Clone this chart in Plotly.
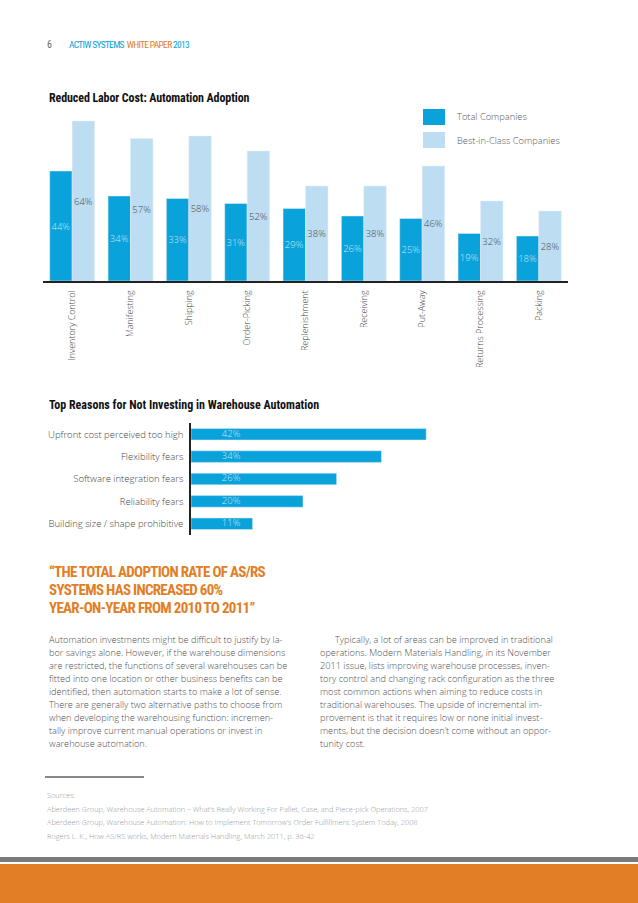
import plotly.graph_objects as go

# ---------------- data ----------------
categories = ["Inventory Control", "Manifesting", "Shipping", "Order-Picking", "Replenishment",
              "Receiving", "Put-Away", "Returns Processing", "Packing"]
total_companies = [44, 34, 33, 31, 29, 26, 25, 19, 18]
best_in_class = [64, 57, 58, 52, 38, 38, 46, 32, 28]

reasons = ["Upfront cost perceived too high", "Flexibility fears", "Software integration fears",
           "Reliability fears", "Building size / shape prohibitive"]
reason_values = [42, 34, 26, 20, 11]

series_names = ["Total Companies", "Best-in-Class Companies"]

quote_lines = ["\u201cTHE TOTAL ADOPTION RATE OF AS/RS",
               "SYSTEMS HAS INCREASED 60%",
               "YEAR-ON-YEAR FROM 2010 TO 2011\u201d"]

left_text = ["Automation investments might be difficult to justify by la-",
             "bor savings alone. However, if the warehouse dimensions",
             "are restricted, the functions of several warehouses can be",
             "fitted into one location or other business benefits can be",
             "identified, then automation starts to make a lot of sense.",
             "There are generally two alternative paths to choose from",
             "when developing the warehousing function: incremen-",
             "tally improve current manual operations or invest in",
             "warehouse automation."]
right_text = ["Typically, a lot of areas can be improved in traditional",
              "operations. Modern Materials Handling, in its November",
              "2011 issue, lists improving warehouse processes, inven-",
              "tory control and changing rack configuration as the three",
              "most common actions when aiming to reduce costs in",
              "traditional warehouses. The upside of incremental im-",
              "provement is that it requires low or none initial invest-",
              "ments, but the decision doesn\u2019t come without an oppor-",
              "tunity cost."]
sources = ["Sources:",
           "Aberdeen Group, Warehouse Automation \u2013 What\u2019s Really Working For Pallet, Case, and Piece-pick Operations, 2007",
           "Aberdeen Group, Warehouse Automation: How to Implement Tomorrow\u2019s Order Fulfillment System Today, 2008",
           "Rogers L. K., How AS/RS works, Modern Materials Handling, March 2011, p. 36-42"]

# ---------------- style ----------------
W, H = 638, 903
DARK = "#0AA2DA"
LIGHT = "#BCDDF2"
ORANGE = "#E27E26"
BODY_FONT = "Open Sans, Lato, sans-serif"
COND_FONT = "Roboto Condensed, Liberation Sans Narrow, Roboto, sans-serif"


def px(x):
    return x / W


def py(y):
    return 1 - y / H


def tight(s, ls):
    return f"<span style='letter-spacing:{ls}px'>{s}</span>"


fig = go.Figure()

fig.add_trace(go.Bar(
    x=categories, y=total_companies, name=series_names[0], marker_color=DARK,
    text=[f"{v}%" for v in total_companies], textposition="inside", insidetextanchor="middle",
    textangle=0, constraintext="none",
    textfont=dict(family=BODY_FONT, size=9.5, color="#C6E6F8", weight=300),
    xaxis="x", yaxis="y", hoverinfo="skip"))
fig.add_trace(go.Bar(
    x=categories, y=best_in_class, name=series_names[1], marker_color=LIGHT,
    text=[f"{v}%" for v in best_in_class], textposition="inside", insidetextanchor="middle",
    textangle=0, constraintext="none",
    textfont=dict(family=BODY_FONT, size=9.5, color="#4A4A4A", weight=300),
    xaxis="x", yaxis="y", hoverinfo="skip"))

fig.add_trace(go.Bar(
    x=reason_values, y=reasons, orientation="h", marker_color=DARK, width=0.52,
    xaxis="x2", yaxis="y2", hoverinfo="skip", showlegend=False))
fig.add_trace(go.Scatter(
    x=[5.5] * len(reasons), y=reasons, mode="text", text=[f"{v}%" for v in reason_values],
    textposition="middle right", textfont=dict(family=BODY_FONT, size=9.5, color="#C6E6F8", weight=300),
    xaxis="x2", yaxis="y2", hoverinfo="skip", showlegend=False))

fig.update_layout(
    width=W, height=H, margin=dict(l=0, r=0, t=0, b=0),
    paper_bgcolor="white", plot_bgcolor="rgba(0,0,0,0)",
    showlegend=False, barmode="group", bargap=0.23, bargroupgap=0,
    xaxis=dict(domain=[px(43), px(568)], type="category", range=[-0.5, 8.5],
               showline=True, linecolor="#222222", linewidth=1.5, ticks="",
               tickangle=-90, tickfont=dict(family=BODY_FONT, size=9, color="#4A4A4A", weight=300),
               showgrid=False, zeroline=False, fixedrange=True, ticklabelstandoff=4),
    yaxis=dict(domain=[py(281), py(106)], range=[0, 70], visible=False, fixedrange=True),
    xaxis2=dict(domain=[px(191), px(443)], range=[0, 45], visible=False, fixedrange=True),
    yaxis2=dict(domain=[py(535), py(423)], type="category", range=[4.5, -0.5], anchor="x2",
                showline=True, linecolor="#222222", linewidth=1.5, ticks="",
                tickfont=dict(family=BODY_FONT, size=9.5, color="#444444", weight=300),
                showgrid=False, zeroline=False, fixedrange=True, ticklabelstandoff=4),
)

shapes = []
annotations = []

# legend
for i, (name, col) in enumerate(zip(series_names, [DARK, LIGHT])):
    top = 109 + 23 * i
    shapes.append(dict(type="rect", xref="paper", yref="paper", x0=px(423), x1=px(445),
                       y0=py(top + 16), y1=py(top), fillcolor=col, line=dict(width=0)))
    annotations.append(dict(text=name, xref="paper", yref="paper", x=px(455), y=py(top + 8),
                            xanchor="left", yanchor="middle", showarrow=False,
                            font=dict(family=BODY_FONT, size=9.3, color="#555555", weight=300)))

# header
annotations.append(dict(text="6", xref="paper", yref="paper", x=px(45), y=py(44),
                        xanchor="left", yanchor="middle", showarrow=False,
                        font=dict(family=COND_FONT, size=10, color="#666666")))
annotations.append(dict(
    text=tight(f"<span style='color:{DARK}'>ACTIW SYSTEMS</span>  <span style='color:{ORANGE}'>WHITE PAPER</span> <span style='color:{DARK}'>2013</span>", -0.7),
    xref="paper", yref="paper", x=px(67), y=py(44), xanchor="left", yanchor="middle",
    showarrow=False, font=dict(family=COND_FONT, size=9.5, color=DARK)))

# chart titles
annotations.append(dict(text=tight("<b>Reduced Labor Cost: Automation Adoption</b>", -0.1), xref="paper",
                        yref="paper", x=px(47), y=py(98), xanchor="left", yanchor="middle", showarrow=False,
                        font=dict(family=COND_FONT, size=12, color="#111111")))
annotations.append(dict(text=tight("<b>Top Reasons for Not Investing in Warehouse Automation</b>", 0),
                        xref="paper", yref="paper", x=px(47), y=py(405), xanchor="left", yanchor="middle",
                        showarrow=False, font=dict(family=COND_FONT, size=12, color="#111111")))

# quote
for i, line in enumerate(quote_lines):
    annotations.append(dict(text=tight(f"<b>{line}</b>", -0.7), xref="paper", yref="paper", x=px(47),
                            y=py(572 + 18 * i), xanchor="left", yanchor="middle", showarrow=False,
                            font=dict(family=COND_FONT, size=15, color=ORANGE)))

# body text
for i, line in enumerate(left_text):
    annotations.append(dict(text=line, xref="paper", yref="paper", x=px(47), y=py(639 + 13.1 * i),
                            xanchor="left", yanchor="middle", showarrow=False,
                            font=dict(family=BODY_FONT, size=9.2, color="#4F4F4F", weight=300)))
for i, line in enumerate(right_text):
    annotations.append(dict(text=line, xref="paper", yref="paper", x=px(333 if i == 0 else 318),
                            y=py(639 + 13.1 * i), xanchor="left", yanchor="middle", showarrow=False,
                            font=dict(family=BODY_FONT, size=9.2, color="#4F4F4F", weight=300)))

# sources
for i, line in enumerate(sources):
    annotations.append(dict(text=line, xref="paper", yref="paper", x=px(45), y=py(795 + 13.5 * i),
                            xanchor="left", yanchor="middle", showarrow=False,
                            font=dict(family=BODY_FONT, size=7.4, color="#999999", weight=300)))

shapes.append(dict(type="line", xref="paper", yref="paper", x0=px(45), x1=px(144), y0=py(777), y1=py(777),
                   line=dict(color="#111111", width=1)))
# footer bands
shapes.append(dict(type="rect", xref="paper", yref="paper", x0=0, x1=1, y0=py(862), y1=py(857),
                   fillcolor="#7A7A7A", line=dict(width=0)))
shapes.append(dict(type="rect", xref="paper", yref="paper", x0=0, x1=1, y0=0, y1=py(864),
                   fillcolor=ORANGE, line=dict(width=0)))

fig.update_layout(shapes=shapes, annotations=annotations)

fig.write_html("out.html", config={"displayModeBar": False},
               post_script="document.body.style.margin='0px';document.documentElement.style.overflow='hidden';")
